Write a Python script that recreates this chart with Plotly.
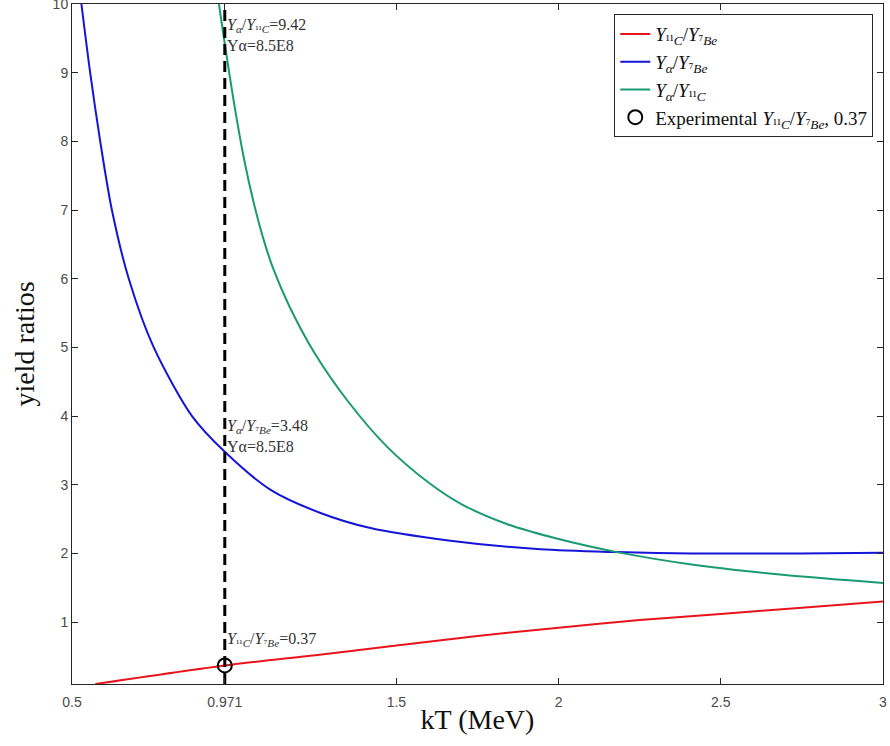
import plotly.graph_objects as go

# ---- data ----
kT_red = [0.572, 0.971, 1.25, 1.5, 1.75, 2.0, 2.25, 2.5, 2.75, 3.0]
Y11C_Y7Be = [0.10, 0.37, 0.52, 0.66, 0.80, 0.92, 1.03, 1.12, 1.21, 1.30]

kT_blue = [0.529, 0.556, 0.587, 0.623, 0.675, 0.752, 0.870, 0.971, 1.111, 1.266,
           1.42, 1.66, 1.944, 2.18, 2.41, 2.746, 3.0]
Ya_Y7Be = [10.0, 9.0, 8.0, 7.0, 6.0, 5.0, 4.0, 3.48, 2.93, 2.59,
           2.37, 2.19, 2.06, 2.02, 2.0, 2.0, 2.01]

kT_green = [0.953, 0.971, 0.998, 1.03, 1.06, 1.09, 1.12, 1.17, 1.25, 1.35,
            1.47, 1.60, 1.70, 1.84, 2.00, 2.18, 2.41, 2.69, 3.0]
Ya_Y11C = [10.0, 9.42, 8.60, 7.75, 7.11, 6.58, 6.15, 5.60, 4.90, 4.22,
           3.56, 3.03, 2.72, 2.43, 2.21, 2.02, 1.84, 1.69, 1.57]

kT_exp = [0.971]
exp_ratio = [0.37]

x_ticks = [0.5, 0.971, 1.5, 2, 2.5, 3]
x_ticktext = ["0.5", "0.971", "1.5", "2", "2.5", "3"]
y_ticks = [1, 2, 3, 4, 5, 6, 7, 8, 9, 10]

SERIF = "Liberation Serif, Times New Roman, serif"
SANS = "Liberation Sans, Arial, sans-serif"
R11C = "<i>Y</i><sub>¹¹<i>C</i></sub>"
R7BE = "<i>Y</i><sub>⁷<i>Be</i></sub>"
YA = "<i>Y</i><sub><i>α</i></sub>"

fig = go.Figure()
fig.add_trace(go.Scatter(x=kT_red, y=Y11C_Y7Be, mode="lines",
                         line=dict(color="#e8141c", width=2, shape="spline", smoothing=0.8),
                         name=f"{R11C}/{R7BE}"))
fig.add_trace(go.Scatter(x=kT_blue, y=Ya_Y7Be, mode="lines",
                         line=dict(color="#1515d8", width=2, shape="spline", smoothing=0.8),
                         name=f"{YA}/{R7BE}"))
fig.add_trace(go.Scatter(x=kT_green, y=Ya_Y11C, mode="lines",
                         line=dict(color="#1a9a72", width=2, shape="spline", smoothing=0.8),
                         name=f"{YA}/{R11C}"))
fig.add_trace(go.Scatter(x=[kT_exp[0], kT_exp[0]], y=[0.1, 10], mode="lines",
                         line=dict(color="black", width=3, dash="11px,6px"), showlegend=False))
fig.add_trace(go.Scatter(x=kT_exp, y=exp_ratio, mode="markers",
                         marker=dict(symbol="circle-open", size=14, color="black",
                                     line=dict(width=2, color="black")),
                         name=f"Experimental {R11C}/{R7BE}, 0.37"))

ann_font = dict(family=SERIF, size=16, color="#333333")
fig.add_annotation(x=0.971, y=9.555, xref="x", yref="y", xanchor="left", yanchor="middle", xshift=0,
                   showarrow=False, align="left", font=ann_font,
                   text=f"{YA}/{R11C}=9.42<br>Yα=8.5E8")
fig.add_annotation(x=0.971, y=3.71, xref="x", yref="y", xanchor="left", yanchor="middle", xshift=0,
                   showarrow=False, align="left", font=ann_font,
                   text=f"{YA}/{R7BE}=3.48<br>Yα=8.5E8")
fig.add_annotation(x=0.971, y=0.75, xref="x", yref="y", xanchor="left", yanchor="middle", xshift=0,
                   showarrow=False, align="left", font=ann_font,
                   text=f"{R11C}/{R7BE}=0.37")

axis_common = dict(showgrid=False, zeroline=False, showline=True, linecolor="#262626", linewidth=1,
                   mirror="ticks", ticks="inside", ticklen=6, tickcolor="#262626", automargin=False,
                   ticklabeloverflow="allow",
                   tickfont=dict(family=SANS, size=14, color="#4a4a4a"))

fig.update_layout(
    width=890, height=746,
    margin=dict(l=72, r=7, t=4, b=62),
    paper_bgcolor="white", plot_bgcolor="white",
    xaxis=dict(range=[0.5, 3], tickvals=x_ticks, ticktext=x_ticktext, ticklabelstandoff=5,
               title=dict(text="kT (MeV)", font=dict(family=SERIF, size=28, color="#111111"), standoff=0),
               **axis_common),
    yaxis=dict(range=[0.1, 10], tickvals=y_ticks,
               title=dict(text="yield ratios", font=dict(family=SERIF, size=28, color="#111111"), standoff=9),
               **axis_common),
    legend=dict(x=0.988, xanchor="right", y=0.985, yanchor="top",
                bgcolor="white", bordercolor="#262626", borderwidth=1,
                font=dict(family=SERIF, size=19, color="#111111"), tracegroupgap=0),
    showlegend=True,
)

fig.write_html("out.html", config={"displayModeBar": False},
               post_script="document.body.style.margin='0';document.body.style.overflow='hidden';")
